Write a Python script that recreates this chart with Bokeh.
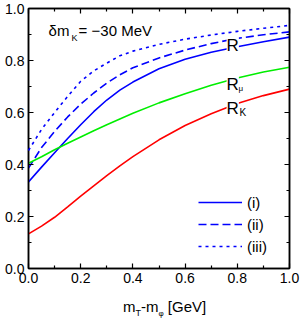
from bokeh.plotting import figure
from bokeh.layouts import column
from bokeh.models import (LinearAxis, FixedTicker, PrintfTickFormatter, Label,
                          Legend, LegendItem, CustomJSTickFormatter, Div)
from bokeh.embed import file_html
from bokeh.resources import INLINE

# ---- data ----
x = [0.0, 0.05, 0.1, 0.15, 0.2, 0.25, 0.3, 0.35, 0.4, 0.5, 0.6, 0.7, 0.8, 0.9, 1.0]
r_i   = [0.333, 0.39, 0.445, 0.50, 0.553, 0.603, 0.648, 0.686, 0.717, 0.768, 0.805, 0.832, 0.853, 0.872, 0.89]
r_ii  = [0.386, 0.465, 0.527, 0.583, 0.632, 0.675, 0.713, 0.745, 0.772, 0.81, 0.84, 0.865, 0.885, 0.899, 0.91]
r_iii = [0.454, 0.535, 0.60, 0.662, 0.72, 0.76, 0.79, 0.818, 0.836, 0.862, 0.882, 0.898, 0.912, 0.924, 0.935]
r_mu  = [0.405, 0.43, 0.457, 0.482, 0.506, 0.53, 0.553, 0.575, 0.597, 0.637, 0.672, 0.705, 0.733, 0.756, 0.774]
r_k   = [0.133, 0.163, 0.197, 0.237, 0.278, 0.318, 0.357, 0.395, 0.43, 0.495, 0.55, 0.595, 0.635, 0.665, 0.69]

major_ticks = [0.0, 0.2, 0.4, 0.6, 0.8, 1.0]
minor_ticks = [0.1, 0.3, 0.5, 0.7, 0.9]
legend_labels = ["(i)", "(ii)", "(iii)"]

FONT = "Liberation Sans"
BLUE, GREEN, RED = "#0000ff", "#00ee00", "#ff0000"

fig = figure(width=300, height=290, x_range=(0, 1), y_range=(0, 1),
             output_backend="svg", toolbar_location=None,
             min_border_left=28, min_border_right=11, min_border_top=8,
             min_border_bottom=22)
fig.xgrid.visible = False
fig.ygrid.visible = False
fig.outline_line_color = "black"
fig.outline_line_width = 1.5
fig.background_fill_color = "white"
fig.border_fill_color = "white"


def style_axis(ax, labels=True):
    ax.ticker = FixedTicker(ticks=major_ticks, minor_ticks=minor_ticks)
    ax.major_tick_in = 5
    ax.major_tick_out = 0
    ax.minor_tick_in = 3
    ax.minor_tick_out = 0
    ax.axis_line_color = "black"
    ax.axis_line_width = 1.5
    ax.major_tick_line_width = 1.2
    ax.minor_tick_line_width = 1.2
    ax.major_label_text_font = FONT
    ax.major_label_text_color = "black"
    if labels:
        ax.formatter = PrintfTickFormatter(format="%.1f")
        ax.major_label_text_font_size = "14px"
    else:
        ax.formatter = CustomJSTickFormatter(code="return ''")
        ax.major_label_text_font_size = "1px"
        ax.major_label_standoff = 0
        ax.axis_label_standoff = 0


style_axis(fig.xaxis[0])
fig.xaxis[0].major_label_standoff = 4
style_axis(fig.yaxis[0])
fig.yaxis[0].major_label_standoff = 4

top = LinearAxis()
style_axis(top, labels=False)
fig.add_layout(top, "above")
right = LinearAxis()
style_axis(right, labels=False)
fig.add_layout(right, "right")

r1 = fig.line(x, r_i, line_color=BLUE, line_width=1.6)
r2 = fig.line(x, r_ii, line_color=BLUE, line_width=1.6, line_dash="8 4")
r3 = fig.line(x, r_iii, line_color=BLUE, line_width=1.6, line_dash="3 4")
r3.level = "overlay"
fig.line(x, r_mu, line_color=GREEN, line_width=1.6)
fig.line(x, r_k, line_color=RED, line_width=1.6)

legend = Legend(items=[LegendItem(label=legend_labels[0], renderers=[r1]),
                       LegendItem(label=legend_labels[1], renderers=[r2]),
                       LegendItem(label=legend_labels[2], renderers=[r3])],
                location=(170, 12), glyph_width=44, glyph_height=20,
                label_height=20, spacing=2, padding=0, margin=0,
                label_standoff=5, border_line_alpha=0,
                background_fill_alpha=0, label_text_font=FONT,
                label_text_font_size="15px", label_text_color="black")
fig.add_layout(legend)


def lab(xv, yv, text, size, bg=False):
    kw = dict(x=xv, y=yv, text=text, text_font=FONT, text_font_size=size,
              text_color="black", text_baseline="alphabetic", text_align="left")
    if bg:
        kw.update(background_fill_color="white", background_fill_alpha=1.0)
    fig.add_layout(Label(**kw))


# title text inside the frame
lab(0.077, 0.915, "δm", "15px")
lab(0.165, 0.888, "K", "9px")
lab(0.192, 0.915, "= −30 MeV", "15px")

# curve labels
lab(0.759, 0.858, "R", "17px", bg=True)
lab(0.759, 0.708, "R", "17px", bg=True)
lab(0.805, 0.692, "μ", "8px")
lab(0.759, 0.615, "R", "17px", bg=True)
lab(0.808, 0.600, "K", "10px", bg=True)

# x axis title (HTML so that subscripts stay real text)
xtitle = Div(
    text=('<div style="font-family:\'Liberation Sans\';font-size:15px;'
          'color:black;padding-left:123px;padding-top:8px;line-height:17px;'
          'white-space:nowrap">'
          'm<span style="font-size:9px;vertical-align:-4px">T</span>'
          '-m<span style="font-size:8px;vertical-align:-4px">φ</span>'
          ' [GeV]</div>'),
    width=300, height=28, margin=0)

p = column(fig, xtitle, spacing=0)

open("out.html", "w").write(file_html(p, INLINE))
